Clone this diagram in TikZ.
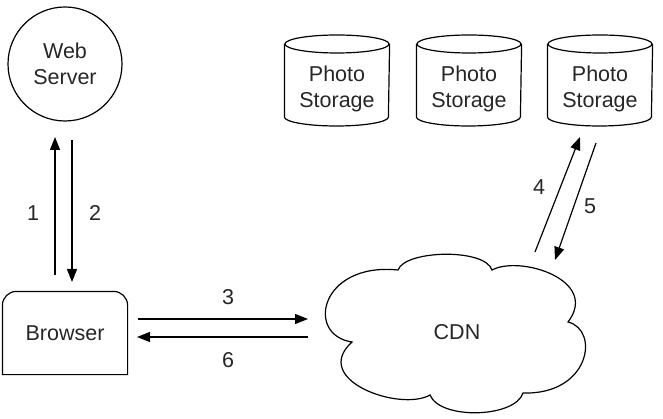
\documentclass[tikz,border=0pt]{standalone}
\usepackage{fontspec}
\setmainfont{Liberation Sans}
\usetikzlibrary{arrows.meta}
\begin{document}
\begin{tikzpicture}[x=1pt,y=-1pt,
  line width=1.2pt,
  lbl/.style={font=\fontsize{21.5}{26}\selectfont, text=black!85, align=center, inner sep=0pt},
  arr/.style={-{Triangle[length=13pt,width=10pt]}},
  box/.style={lbl, minimum width=124pt, minimum height=82pt},
  cyl/.style={lbl, minimum width=104pt, minimum height=91pt}]
\useasboundingbox (0,0) rectangle (663,419);
% Web server
\node[lbl, circle, draw, minimum size=114pt] (ws) at (65,64) {Web\\Server};
% Browser
\node[box] (br) at (65,333) {Browser};
\draw (br.south west) -- ([yshift=-14pt]br.north west) arc[start angle=180,end angle=90,radius=14pt]
  -- ([xshift=-14pt]br.north east) arc[start angle=90,end angle=0,radius=14pt] -- (br.south east) -- cycle;
% Storages
\foreach \n/\cx in {s1/337, s2/469, s3/600}{
  \node[cyl] (\n) at (\cx,81) {};
  \draw (\n.north west |- 0,44) -- (\n.south west |- 0,117)
    arc[start angle=180,end angle=360,x radius=52pt,y radius=9pt] -- (\n.north east |- 0,44);
  \draw (\cx,44) ellipse[x radius=52pt,y radius=9pt];
  \node[lbl] at (\cx,89) {Photo\\Storage};
}
% CDN cloud
\node[lbl] (cdn) at (457,332) {CDN};
\draw (352,342) .. controls (305,335) and (320,262) .. (398,270)
  .. controls (405,250) and (485,248) .. (492,270)
  .. controls (520,255) and (600,280) .. (568,322)
  .. controls (600,330) and (590,395) .. (523,393)
  .. controls (515,418) and (440,420) .. (430,395)
  .. controls (400,412) and (310,380) .. (352,342) -- cycle;
% endpoints
\coordinate (a1s) at (55,275); \coordinate (a1e) at (55,137);
\coordinate (a2s) at (72,140); \coordinate (a2e) at (72,282);
\coordinate (a3s) at (138,319); \coordinate (a3e) at (308,319);
\coordinate (a6s) at (308,337); \coordinate (a6e) at (137,337);
\coordinate (a4s) at (535,252); \coordinate (a4e) at (580,137);
\coordinate (a5s) at (596,143); \coordinate (a5e) at (555,260);
\draw[arr] (a1s) -- (a1e);
\draw[arr] (a2s) -- (a2e);
\draw[arr] (a3s) -- (a3e);
\draw[arr] (a6s) -- (a6e);
\draw[arr] (a4s) -- (a4e);
\draw[arr] (a5s) -- (a5e);
\node[lbl] (l1) at (33,213) {1};
\node[lbl] (l2) at (95,213) {2};
\node[lbl] (l3) at (228,297) {3};
\node[lbl] (l6) at (228,360) {6};
\node[lbl] (l4) at (539,187) {4};
\node[lbl] (l5) at (590,206) {5};
\end{tikzpicture}
\end{document}
